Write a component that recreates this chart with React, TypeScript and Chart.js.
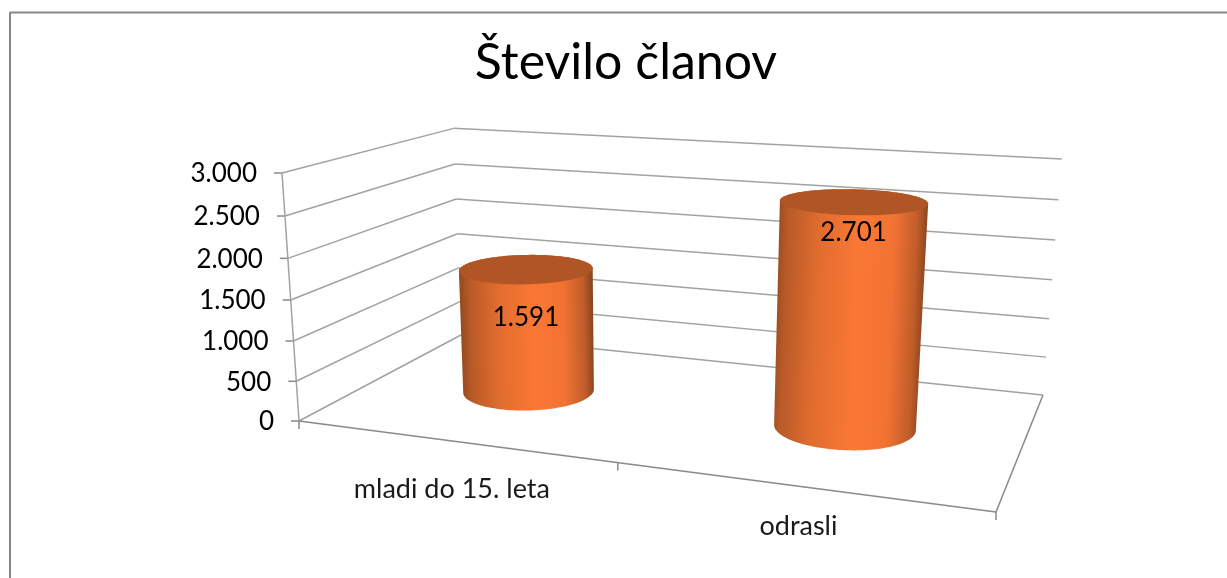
import React, { useEffect, useRef } from "react";
import Chart from "chart.js/auto";

const categories = ["mladi do 15. leta", "odrasli"];
const members = [1591, 2701];
const valueTicks = [0, 500, 1000, 1500, 2000, 2500, 3000];
const titleText = "Število članov";
const categoryLabelDrop = [48, 40];
const valueLabelDrop = [49, 31];

const FONT = "Lato";
const GRID = "#a2a2a2";
const AXIS = "#8a8a8a";
const FRAME = "#868686";
const TOP_FACE = "#b05526";

// 3D view: floor corners and the top of the front-left edge fix a projective camera.
const A = [299, 421], B = [996, 512], C = [1043, 395], D = [461, 335];
const TOP_LEFT = [282, 173];
const J = -0.047;
const sx = A[0] - B[0] + C[0] - D[0], sy = A[1] - B[1] + C[1] - D[1];
const dx1 = B[0] - C[0], dx2 = D[0] - C[0], dy1 = B[1] - C[1], dy2 = D[1] - C[1];
const det = dx1 * dy2 - dx2 * dy1;
const G = (sx * dy2 - dx2 * sy) / det;
const H = (dx1 * sy - sx * dy1) / det;
const aX = B[0] * (1 + G) - A[0], aY = B[1] * (1 + G) - A[1];
const bX = D[0] * (1 + H) - A[0], bY = D[1] * (1 + H) - A[1];
const cX = TOP_LEFT[0] * (1 + J) - A[0], cY = TOP_LEFT[1] * (1 + J) - A[1];

function project(u: number, w: number, z: number): [number, number] {
  const d = 1 + G * u + H * w + J * z;
  return [(A[0] + aX * u + bX * w + cX * z) / d, (A[1] + aY * u + bY * w + cY * z) / d];
}

const fmt = (v: number) => String(v).replace(/\B(?=(\d{3})+$)/g, ".");

function hull(pts: [number, number][]) {
  const p = [...pts].sort((a, b) => a[0] - b[0] || a[1] - b[1]);
  const cross = (o: number[], a: number[], b: number[]) =>
    (a[0] - o[0]) * (b[1] - o[1]) - (a[1] - o[1]) * (b[0] - o[0]);
  const lo: [number, number][] = [];
  for (const q of p) {
    while (lo.length > 1 && cross(lo[lo.length - 2], lo[lo.length - 1], q) <= 0) lo.pop();
    lo.push(q);
  }
  const up: [number, number][] = [];
  for (const q of [...p].reverse()) {
    while (up.length > 1 && cross(up[up.length - 2], up[up.length - 1], q) <= 0) up.pop();
    up.push(q);
  }
  return lo.slice(0, -1).concat(up.slice(0, -1));
}

function line(ctx: CanvasRenderingContext2D, a: number[], b: number[], color: string, width: number) {
  ctx.strokeStyle = color;
  ctx.lineWidth = width;
  ctx.beginPath();
  ctx.moveTo(a[0], a[1]);
  ctx.lineTo(b[0], b[1]);
  ctx.stroke();
}

const zOf = (chart: any, v: number) => {
  const y = chart.scales.y;
  return (y.getPixelForValue(0) - y.getPixelForValue(v)) / (y.getPixelForValue(0) - y.getPixelForValue(3000));
};
const uOf = (chart: any, px: number) => (px - chart.chartArea.left) / chart.chartArea.width;

const scene3d = {
  id: "scene3d",
  beforeDraw(chart: any) {
    const { ctx, scales } = chart;
    // move the scales' own labels onto the slanted axes
    scales.y._computeLabelArea = () => undefined;
    scales.x._computeLabelArea = () => undefined;
    scales.y.getLabelItems().forEach((it: any, i: number) => {
      const p = project(0, 0, zOf(chart, scales.y.ticks[i].value));
      it.options.translation = [p[0] - 25, p[1] + 1];
      it.options.textAlign = "right";
      it.options.textBaseline = "middle";
      it.textOffset = 0;
    });
    scales.x.getLabelItems().forEach((it: any, i: number) => {
      const p = project(uOf(chart, scales.x.getPixelForTick(i)), 0, 0);
      it.options.translation = [p[0], p[1] + categoryLabelDrop[i]];
      it.options.textAlign = "center";
      it.options.textBaseline = "middle";
      it.textOffset = 0;
    });
    ctx.save();
    ctx.fillStyle = "#ffffff";
    ctx.fillRect(0, 0, chart.width, chart.height);
    line(ctx, [10, 12.5], [chart.width, 12.5], FRAME, 2);
    line(ctx, [10, 12], [10, chart.height], FRAME, 2);
    ctx.restore();
  },
  beforeDatasetsDraw(chart: any) {
    const { ctx } = chart;
    ctx.save();
    ctx.lineCap = "butt";
    for (const v of valueTicks) {
      const z = zOf(chart, v);
      const fl = project(0, 0, z), bl = project(0, 1, z), br = project(1, 1, z);
      line(ctx, fl, bl, GRID, 1.5);
      line(ctx, bl, br, GRID, 1.5);
      line(ctx, [fl[0] - 8, fl[1]], fl, AXIS, 1.5);
    }
    line(ctx, project(0, 0, 0), project(0, 0, 1), GRID, 1.5);
    line(ctx, project(1, 1, 0), project(1, 0, 0), AXIS, 1.5);
    line(ctx, project(0, 0, 0), project(1, 0, 0), AXIS, 1.7);
    for (const u of [0, 0.5, 1]) {
      const p = project(u, 0, 0);
      line(ctx, p, [p[0], p[1] + 8], AXIS, 1.5);
    }
    ctx.restore();
  },
  afterDatasetsDraw(chart: any) {
    const { ctx } = chart;
    const meta = chart.getDatasetMeta(0);
    ctx.save();
    meta.data.forEach((bar: any, i: number) => {
      const u = uOf(chart, bar.x);
      const w = 0.5;
      const ru = bar.width / 2 / chart.chartArea.width;
      const rw = 0.2;
      const z = zOf(chart, members[i]);
      const ring = (zz: number) => {
        const pts: [number, number][] = [];
        for (let a = 0; a < 360; a += 3) {
          const t = (a * Math.PI) / 180;
          pts.push(project(u + ru * Math.cos(t), w + rw * Math.sin(t), zz));
        }
        return pts;
      };
      const bottom = ring(0), top = ring(z);
      const h = hull([...bottom, ...top]);
      const xs = h.map((p) => p[0]);
      const axisB = project(u, w, 0), axisT = project(u, w, z);
      const ang = Math.atan2(axisT[0] - axisB[0], axisB[1] - axisT[1]);
      const half = (Math.max(...xs) - Math.min(...xs)) / 2;
      const midX = (axisB[0] + axisT[0]) / 2, midY = (axisB[1] + axisT[1]) / 2;
      const cs = Math.cos(ang), sn = Math.sin(ang);
      const g = ctx.createLinearGradient(midX - half * cs, midY - half * sn, midX + half * cs, midY + half * sn);
      g.addColorStop(0, "#90491f");
      g.addColorStop(0.08, "#b85a28");
      g.addColorStop(0.28, "#e06c2f");
      g.addColorStop(0.55, "#fa7834");
      g.addColorStop(0.77, "#f27233");
      g.addColorStop(0.92, "#c05d2a");
      g.addColorStop(1, "#80401c");
      ctx.fillStyle = g;
      ctx.beginPath();
      h.forEach((p, k) => (k ? ctx.lineTo(p[0], p[1]) : ctx.moveTo(p[0], p[1])));
      ctx.closePath();
      ctx.fill();
      ctx.fillStyle = TOP_FACE;
      ctx.beginPath();
      top.forEach((p, k) => (k ? ctx.lineTo(p[0], p[1]) : ctx.moveTo(p[0], p[1])));
      ctx.closePath();
      ctx.fill();
      ctx.fillStyle = "#000000";
      ctx.font = `26px ${FONT}`;
      ctx.textAlign = "center";
      ctx.textBaseline = "middle";
      ctx.fillText(fmt(members[i]), axisT[0], axisT[1] + valueLabelDrop[i]);
    });
    ctx.restore();
  },
};

export default function App() {
  const ref = useRef<HTMLCanvasElement>(null);
  useEffect(() => {
    const chart = new Chart(ref.current!, {
      type: "bar",
      data: {
        labels: categories,
        datasets: [
          {
            data: members,
            backgroundColor: "transparent",
            borderWidth: 0,
            barPercentage: 0.404,
            categoryPercentage: 1,
          },
        ],
      },
      options: {
        responsive: false,
        animation: false,
        layout: { padding: { left: 256, right: 231, top: 0, bottom: 137 } },
        plugins: {
          legend: { display: false },
          tooltip: { enabled: false },
          title: {
            display: true,
            text: titleText,
            color: "#000000",
            font: { family: FONT, size: 50, weight: "normal" },
            padding: { top: 33, bottom: 80 },
          },
        },
        scales: {
          x: {
            grid: { display: false },
            border: { display: false },
            ticks: { color: "#1a1a1a", font: { family: FONT, size: 27 }, maxRotation: 0, autoSkip: false },
            afterFit: (s: any) => { s.height = 20; },
          },
          y: {
            min: 0,
            max: 3000,
            grid: { display: false },
            border: { display: false },
            ticks: {
              stepSize: 500,
              autoSkip: false,
              color: "#000000",
              font: { family: FONT, size: 26 },
              callback: (v: any) => fmt(Number(v)),
            },
            afterFit: (s: any) => { s.width = 43; },
          },
        },
      },
      plugins: [scene3d],
    } as any);
    return () => chart.destroy();
  }, []);
  return (
    <div style={{ position: "absolute", left: 0, top: 0, width: 1227, height: 578, overflow: "hidden" }}>
      <canvas ref={ref} width={1227} height={578} style={{ display: "block" }} />
    </div>
  );
}
